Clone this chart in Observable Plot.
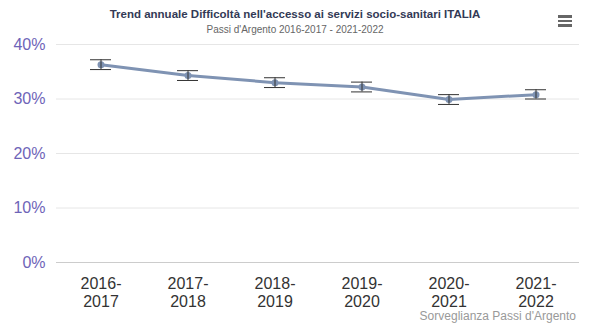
<!DOCTYPE html>
<html><head><meta charset="utf-8">
<script src="https://cdn.jsdelivr.net/npm/d3@7"></script>
<script src="https://cdn.jsdelivr.net/npm/@observablehq/plot@0.6"></script>
<style>
body{margin:0;background:#fff;font-family:"Liberation Sans",Arial,sans-serif;}
#wrap{position:relative;width:600px;height:325px;overflow:hidden;}
#title{position:absolute;top:8px;left:0;width:590px;text-align:center;font-size:11.5px;font-weight:bold;color:#333a56;}
#sub{position:absolute;top:24px;left:0;width:590px;text-align:center;font-size:10px;color:#666;}
#menu{position:absolute;top:15px;left:558px;width:14px;}
#menu div{height:2.5px;background:#666;margin-bottom:2px;}
#cap{position:absolute;top:310px;right:24px;font-size:12px;line-height:12px;color:#999;}
#chart{position:absolute;top:0;left:0;}
</style></head>
<body>
<div id="wrap">
<div id="chart"></div>
<div id="title">Trend annuale Difficoltà nell'accesso ai servizi socio-sanitari ITALIA</div>
<div id="sub">Passi d'Argento 2016-2017 - 2021-2022</div>
<div id="menu"><div></div><div></div><div></div></div>
<div id="cap">Sorveglianza Passi d'Argento</div>
</div>
<script>
const periods = ["2016-2017","2017-2018","2018-2019","2019-2020","2020-2021","2021-2022"];
const values = [36.3, 34.3, 33.0, 32.2, 29.9, 30.8];
const lower = [35.4, 33.4, 32.1, 31.3, 29.0, 30.0];
const upper = [37.2, 35.2, 33.9, 33.1, 30.8, 31.7];
const yTicks = [0, 10, 20, 30, 40];

const data = periods.map((p, i) => ({period: p, value: values[i], lo: lower[i], hi: upper[i]}));

const chart = Plot.plot({
  width: 600,
  height: 325,
  marginTop: 44,
  marginBottom: 63,
  marginLeft: 56,
  marginRight: 21,
  style: {fontFamily: "'Liberation Sans', Arial, sans-serif", background: "transparent"},
  x: {type: "band", domain: periods, padding: 0, label: null},
  y: {domain: [0, 40], label: null},
  marks: [
    Plot.gridY(yTicks.filter(d => d > 0), {stroke: "#e6e6e6", strokeOpacity: 1}),
    Plot.ruleY([0], {stroke: "#ccc", strokeWidth: 1}),
    Plot.axisY(yTicks, {tickSize: 0, tickPadding: 11, tickFormat: d => d + "%", fontSize: 16, fill: "#6e64b8", label: null}),
    Plot.axisX({tickSize: 0, tickPadding: 14, tickFormat: d => d.replace("-", "-\n"), fontSize: 16, fill: "#333", lineHeight: 1.1, label: null}),
    Plot.line(data, {x: "period", y: "value", stroke: "#7f93b3", strokeWidth: 3}),
    Plot.dot(data, {x: "period", y: "value", r: 3.5, fill: "#7f93b3"}),
    Plot.ruleX(data, {x: "period", y1: "lo", y2: "hi", stroke: "#333", strokeWidth: 1}),
    Plot.tickY(data, {x: "period", y: "lo", stroke: "#333", strokeWidth: 1, insetLeft: 33, insetRight: 33}),
    Plot.tickY(data, {x: "period", y: "hi", stroke: "#333", strokeWidth: 1, insetLeft: 33, insetRight: 33})
  ]
});
document.getElementById("chart").appendChild(chart);
</script>
</body></html>
